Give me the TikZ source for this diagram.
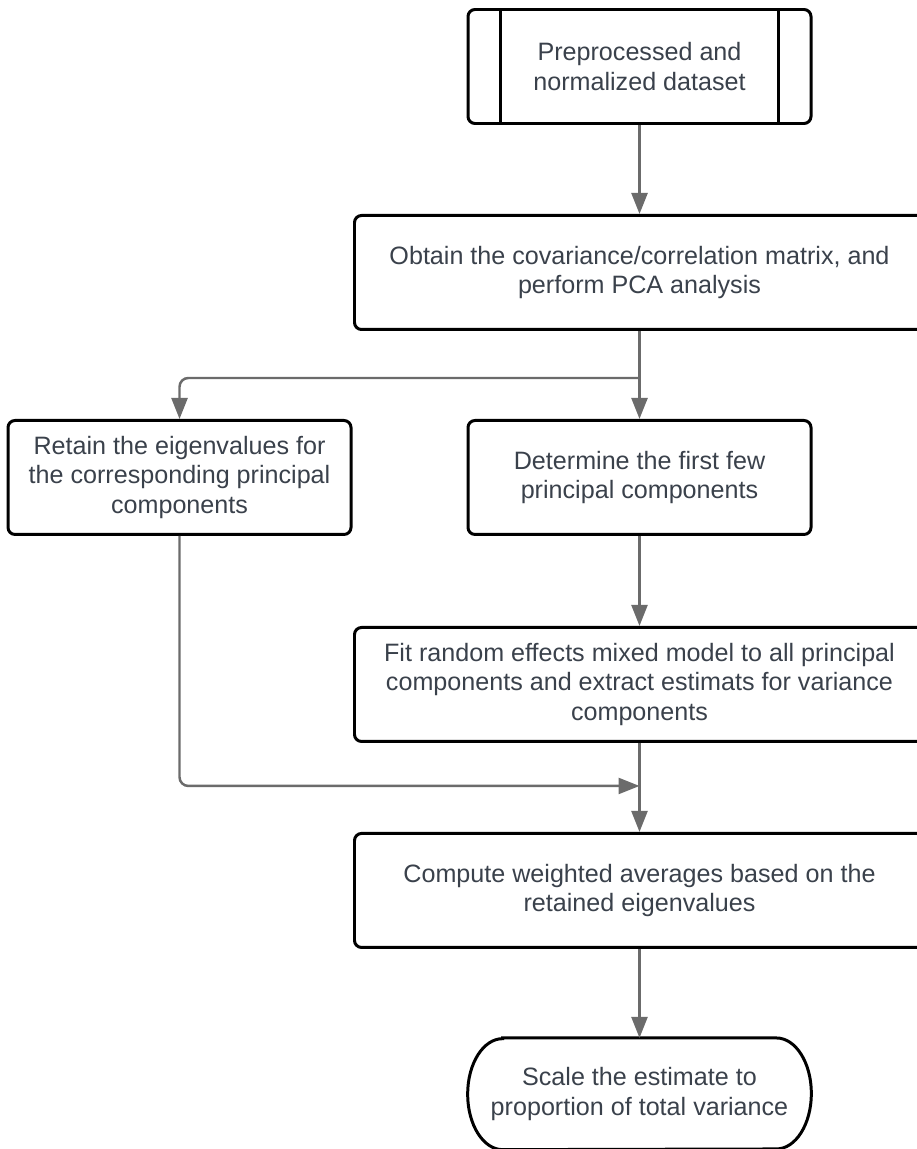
\documentclass[tikz,border=0pt]{standalone}
\usepackage{fontspec}
\setmainfont{Liberation Sans}
\usetikzlibrary{arrows.meta, positioning, calc}
\definecolor{sink}{HTML}{3A414B}
\definecolor{sgrey}{HTML}{6B6B6B}
\tikzset{
  >={Triangle[length=4.2mm,width=3.2mm]},
  font=\fontsize{14.3}{17}\selectfont,
  box/.style={
    draw=black, fill=white, line width=1.7pt,
    rounded corners=4pt, align=center, text=sink,
    minimum width=#1, minimum height=2.28cm, inner sep=0pt
  },
  box/.default=6.86cm,
  term/.style={
    align=center, text=sink, inner sep=0pt,
    minimum width=6.86cm, minimum height=2.22cm
  },
  arr/.style={->, line width=1.4pt, draw=sgrey},
  edge/.style={line width=1.7pt, draw=black}
}
\begin{document}
\begin{tikzpicture}
  \useasboundingbox (0,0) rectangle (18.34,-22.98);
  \node[box] (data) at (12.79,-1.33) {Preprocessed and\\normalized dataset};
  \draw[edge] ($(data.north west)+(0.68,0)$) -- ($(data.south west)+(0.68,0)$);
  \draw[edge] ($(data.north east)+(-0.68,0)$) -- ($(data.south east)+(-0.68,0)$);
  \node[box=11.4cm, below=1.78cm of data] (cov)
    {Obtain the covariance/correlation matrix, and\\perform PCA analysis};
  \node[box, below=1.76cm of cov] (first) {Determine the first few\\principal components};
  \node[box, left=2.28cm of first] (retain)
    {Retain the eigenvalues for\\the corresponding principal\\components};
  \node[box=11.4cm, below=1.8cm of first] (fit)
    {Fit random effects mixed model to all principal\\components and extract estimats for variance\\components};
  \node[box=11.4cm, below=1.78cm of fit] (wavg)
    {Compute weighted averages based on the\\retained eigenvalues};
  \node[term, below=1.78cm of wavg] (scale) {Scale the estimate to\\proportion of total variance};
  % terminator outline
  \draw[edge] ($(scale.north west)+(0.7,0)$) -- ($(scale.north east)+(-0.7,0)$)
    arc[start angle=90, end angle=-90, x radius=0.7cm, y radius=1.11cm]
    -- ($(scale.south west)+(0.7,0)$)
    arc[start angle=270, end angle=90, x radius=0.7cm, y radius=1.11cm] -- cycle;

  \coordinate (split) at ($(cov.south)+(0,-0.94)$);
  \coordinate (join) at ($(fit.south)+(0,-0.86)$);
  \draw[arr] (data) -- (cov);
  \draw[arr] (cov) -- (first);
  \draw[arr, rounded corners=5pt] (split) -| (retain.north);
  \draw[arr] (first) -- (fit);
  \draw[arr, rounded corners=5pt] (retain.south) |- (join);
  \draw[arr] (fit) -- (wavg);
  \draw[arr] (wavg) -- (scale);
\end{tikzpicture}
\end{document}
